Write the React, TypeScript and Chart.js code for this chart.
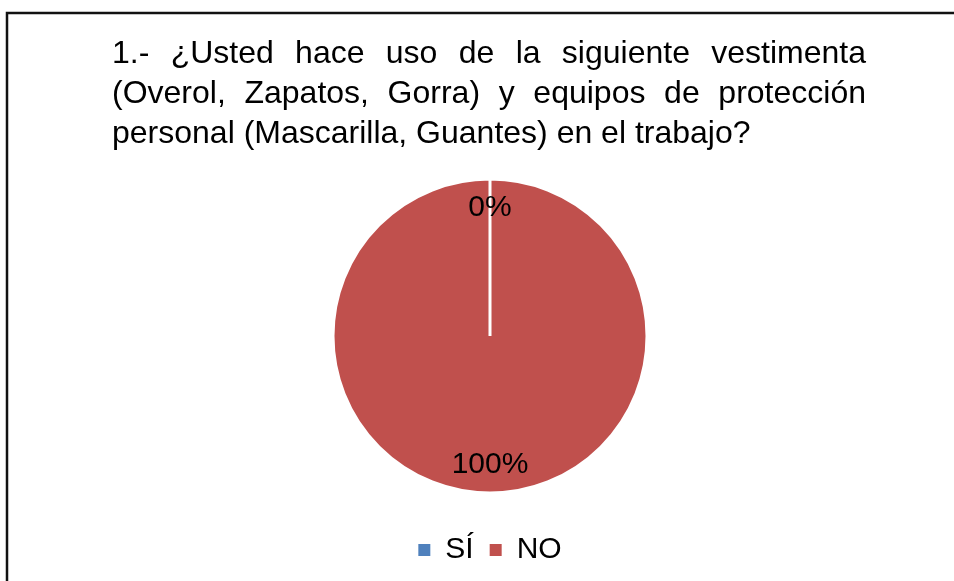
import React, { useEffect, useRef } from "react";
import { Chart, registerables } from "chart.js";

Chart.register(...registerables);

const categories = ["SÍ", "NO"];
const values = [0, 100];
const colors = ["#4F81BD", "#C0504D"];
const titleLines = [
  "1.- ¿Usted hace uso de la siguiente vestimenta",
  "(Overol, Zapatos, Gorra) y equipos de protección",
  "personal (Mascarilla, Guantes) en el trabajo?",
];

const FONT = "'Liberation Sans', Arial, Helvetica, sans-serif";

const frameAndTitle = {
  id: "frameAndTitle",
  beforeDraw(chart: any) {
    const ctx = chart.ctx as CanvasRenderingContext2D;
    ctx.save();
    ctx.fillStyle = "#ffffff";
    ctx.fillRect(0, 0, chart.width, chart.height);
    ctx.strokeStyle = "#111111";
    ctx.lineWidth = 2.5;
    ctx.beginPath();
    ctx.moveTo(7, chart.height + 5);
    ctx.lineTo(7, 13);
    ctx.lineTo(chart.width + 5, 13);
    ctx.stroke();
    ctx.restore();
  },
  afterDraw(chart: any) {
    const ctx = chart.ctx as CanvasRenderingContext2D;
    ctx.save();
    ctx.font = `32px ${FONT}`;
    ctx.fillStyle = "#000000";
    ctx.textBaseline = "alphabetic";
    const left = 112;
    const right = 866;
    titleLines.forEach((line, i) => {
      const y = 63 + i * 40;
      const words = line.split(" ");
      const justify = i < titleLines.length - 1;
      if (!justify) {
        ctx.fillText(line, left, y);
        return;
      }
      const widths = words.map((w) => ctx.measureText(w).width);
      const total = widths.reduce((a, b) => a + b, 0);
      const gap = (right - left - total) / (words.length - 1);
      let x = left;
      words.forEach((w, j) => {
        ctx.fillText(w, x, y);
        x += widths[j] + gap;
      });
    });
    ctx.restore();
  },
};

const sliceLabels = {
  id: "sliceLabels",
  afterDatasetsDraw(chart: any) {
    const ctx = chart.ctx as CanvasRenderingContext2D;
    const meta = chart.getDatasetMeta(0);
    const data = chart.data.datasets[0].data as number[];
    const total = data.reduce((a, b) => a + b, 0);
    ctx.save();
    ctx.font = `30px ${FONT}`;
    ctx.fillStyle = "#000000";
    ctx.textAlign = "center";
    ctx.textBaseline = "middle";
    meta.data.forEach((arc: any, i: number) => {
      const { x, y, startAngle, endAngle, outerRadius } = arc.getProps(
        ["x", "y", "startAngle", "endAngle", "outerRadius"],
        true
      );
      const mid = (startAngle + endAngle) / 2;
      const r = outerRadius * 0.82;
      const pct = Math.round((data[i] / total) * 100);
      ctx.fillText(`${pct}%`, x + Math.cos(mid) * r, y + Math.sin(mid) * r);
    });
    ctx.restore();
  },
};

export default function App() {
  const ref = useRef<HTMLCanvasElement>(null);
  useEffect(() => {
    if (!ref.current) return;
    const chart = new Chart(ref.current, {
      type: "pie",
      data: {
        labels: categories,
        datasets: [
          {
            data: values,
            backgroundColor: colors,
            borderColor: "#ffffff",
            borderWidth: 3,
            radius: 157,
          } as any,
        ],
      },
      options: {
        responsive: false,
        animation: false,
        devicePixelRatio: 1,
        layout: { padding: { top: 153, bottom: 6, left: 26, right: 0 } },
        plugins: {
          title: { display: false },
          tooltip: { enabled: false },
          legend: {
            display: true,
            position: "bottom",
            labels: {
              boxWidth: 12,
              boxHeight: 12,
              padding: 16,
              color: "#000000",
              font: { size: 30, family: FONT },
              generateLabels(c: any) {
                const items = Chart.overrides.pie.plugins.legend.labels.generateLabels(c);
                return items.map((it: any) => ({ ...it, lineWidth: 0, strokeStyle: "rgba(0,0,0,0)" }));
              },
            },
          },
        },
      },
      plugins: [frameAndTitle, sliceLabels],
    });
    return () => chart.destroy();
  }, []);
  return (
    <div style={{ position: "fixed", left: 0, top: 0, width: 954, height: 581, background: "#fff" }}>
      <canvas ref={ref} width={954} height={581} style={{ width: 954, height: 581, display: "block" }} />
    </div>
  );
}
